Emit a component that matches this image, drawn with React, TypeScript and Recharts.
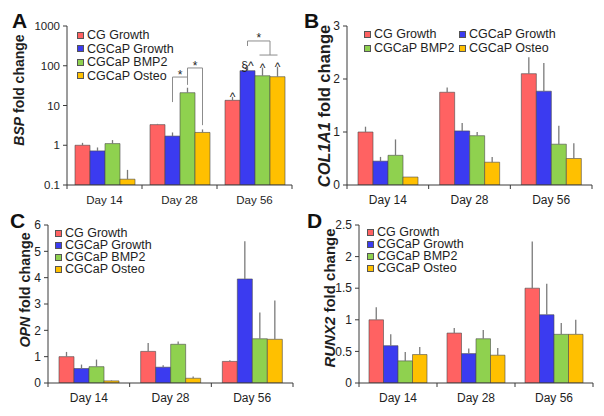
import React from "react";
import { BarChart, Bar, XAxis, YAxis, ErrorBar, LabelList, Legend } from "recharts";

const categories = ["Day 14", "Day 28", "Day 56"];
const seriesNames = ["CG Growth", "CGCaP Growth", "CGCaP BMP2", "CGCaP Osteo"];
const seriesColors = ["#FF6262", "#3B3BF0", "#8FD14F", "#FFC000"];

// rows = series, columns = day; errors are the upper error only
const bspMeans = [
  [1.0, 3.3, 13.5],
  [0.72, 1.7, 75],
  [1.1, 21, 56],
  [0.14, 2.1, 53],
];
const bspErrs = [
  [0.15, 0.15, 3],
  [0.16, 0.4, 25],
  [0.25, 7, 34],
  [0.1, 0.4, 42],
];

const col1a1Means = [
  [1.0, 1.75, 2.1],
  [0.45, 1.02, 1.77],
  [0.56, 0.93, 0.77],
  [0.15, 0.43, 0.5],
];
const col1a1Errs = [
  [0.1, 0.09, 0.31],
  [0.08, 0.15, 0.53],
  [0.3, 0.07, 0.35],
  [0, 0.1, 0.29],
];

const opnMeans = [
  [1.0, 1.2, 0.82],
  [0.55, 0.6, 3.95],
  [0.62, 1.47, 1.68],
  [0.08, 0.18, 1.66],
];
const opnErrs = [
  [0.18, 0.32, 0.04],
  [0.15, 0.07, 1.43],
  [0.27, 0.11, 1.0],
  [0.02, 0.07, 1.47],
];

const runx2Means = [
  [1.0, 0.79, 1.5],
  [0.59, 0.465, 1.08],
  [0.35, 0.7, 0.77],
  [0.45, 0.44, 0.77],
];
const runx2Errs = [
  [0.2, 0.08, 0.74],
  [0.18, 0.08, 0.49],
  [0.14, 0.14, 0.18],
  [0.12, 0.115, 0.23],
];

// significance markers above the BSP bars (series x day)
const bspMarks = [
  ["", "", "^"],
  ["", "", "§^"],
  ["", "", "^"],
  ["", "", "^"],
];
// brackets in BSP panel: series positions and heights in fold-change units
const bspBrackets = [
  { day: 1, from: 1, to: 2, top: 52, fromEnd: 12.2, toEnd: 33, star: 68 },
  { day: 1, from: 2, to: 3, top: 88, fromEnd: 52, toEnd: 3.2, star: 115 },
  { day: 2, from: 1, to: 2.5, top: 420, fromEnd: 314, toEnd: 186, star: 580, span: [1.8, 3] },
];

const FONT = "'Liberation Sans', Arial, Helvetica, sans-serif";
const INK = "#1e1e1e";
const AXIS = "#3a3a3a";
const BOX = "#6a6a6a";
const W = 302;
const H = 208;

const panels = [
  {
    letter: "A", gene: "BSP", x: 0, y: 0, means: bspMeans, errs: bspErrs,
    log: true, domain: [0.1, 1000], ticks: [0.1, 1, 10, 100, 1000],
    plotLeft: 67, marginRight: 10, plotTop: 26, plotBottom: 185, barSize: 15,
    tickFont: 11.5, titleFont: 14, titleX: 19, titleY: 90, letterX: 12, letterY: 28,
    legend: { x0: 77, y0: 35, cols: 1, colW: 0, rowH: 13.5, fs: 12.5 },
  },
  {
    letter: "B", gene: "COL1A1", x: 302, y: 0, means: col1a1Means, errs: col1a1Errs,
    log: false, domain: [0, 3], ticks: [0, 1, 2, 3],
    plotLeft: 45, marginRight: 12, plotTop: 26, plotBottom: 185, barSize: 15,
    tickFont: 12, titleFont: 16.5, titleX: 22, titleY: 106, letterX: 2, letterY: 28,
    legend: { x0: 62, y0: 34, cols: 2, colW: 95, rowH: 14, fs: 12.5 },
  },
  {
    letter: "C", gene: "OPN", x: 0, y: 208, means: opnMeans, errs: opnErrs,
    log: false, domain: [0, 6], ticks: [0, 1, 2, 3, 4, 5, 6],
    plotLeft: 48, marginRight: 9, plotTop: 17, plotBottom: 175, barSize: 15,
    tickFont: 12, titleFont: 14.3, titleX: 25, titleY: 82, letterX: 10, letterY: 20,
    legend: { x0: 55, y0: 25, cols: 1, colW: 0, rowH: 12, fs: 12.5 },
  },
  {
    letter: "D", gene: "RUNX2", x: 302, y: 208, means: runx2Means, errs: runx2Errs,
    log: false, domain: [0, 2.5], ticks: [0, 0.5, 1, 1.5, 2, 2.5],
    plotLeft: 57, marginRight: 11, plotTop: 17, plotBottom: 175, barSize: 14.5,
    tickFont: 12, titleFont: 15, titleX: 27, titleY: 90, letterX: 5, letterY: 20,
    legend: { x0: 65, y0: 24, cols: 1, colW: 0, rowH: 12, fs: 12.5 },
  },
];

function buildRows(means: number[][], errs: number[][]) {
  return categories.map((day, i) => {
    const row: any = { day };
    means.forEach((m, s) => {
      row[`s${s}`] = m[i];
      row[`e${s}`] = [0, errs[s][i]];
    });
    return row;
  });
}

// y pixel of a value on the log axis, taken from a bar drawn by recharts
function logY(vb: any, barValue: number, min: number) {
  const bottom = vb.y + vb.height;
  const ppd = vb.height / Math.log10(barValue / min);
  return (val: number) => bottom - Math.log10(val / min) * ppd;
}

function DayTick(props: any) {
  const { x, y, payload, index, fs, half } = props;
  const off = payload && payload.offset ? payload.offset : half;
  return (
    <g>
      <line x1={x - off} x2={x - off} y1={y} y2={y + 4} stroke={AXIS} />
      {index === categories.length - 1 && (
        <line x1={x + off} x2={x + off} y1={y} y2={y + 4} stroke={AXIS} />
      )}
      <text x={x} y={y + 19} textAnchor="middle" fontSize={fs} fontFamily={FONT} fill={INK}>
        {payload.value}
      </text>
    </g>
  );
}

function Panel({ cfg }: { cfg: any }) {
  const rows = buildRows(cfg.means, cfg.errs);
  const half = (W - cfg.plotLeft - cfg.marginRight) / 6;
  const min = cfg.domain[0];

  const renderMark = (p: any, s: number) => {
    const text = bspMarks[s][p.index];
    if (!text) return null;
    const vb = p.viewBox || p;
    const v = cfg.means[s][p.index];
    const yOf = logY(vb, v, min);
    const ty = yOf(v + cfg.errs[s][p.index]);
    return (
      <text key={`m${s}-${p.index}`} x={vb.x + vb.width / 2} y={ty + 4} textAnchor="middle" fontSize={12} fontFamily={FONT} fill={INK}>
        {text}
      </text>
    );
  };

  const renderBrackets = (p: any) => {
    const list = bspBrackets.filter((b) => b.day === p.index);
    if (!list.length) return null;
    const vb = p.viewBox || p;
    const yOf = logY(vb, cfg.means[1][p.index], min);
    const xOf = (s: number) => vb.x + (s - 1) * vb.width + vb.width / 2;
    return (
      <g key={`br-${p.index}`}>
        {list.map((b, k) => {
          const xa = xOf(b.from);
          const xb = xOf(b.to);
          return (
            <g key={k}>
              <path
                d={`M${xa},${yOf(b.fromEnd)}V${yOf(b.top)}H${xb}V${yOf(b.toEnd)}`}
                fill="none" stroke="#8c8c8c" strokeWidth={1}
              />
              {b.span && (
                <path d={`M${xOf(b.span[0])},${yOf(b.toEnd)}H${xOf(b.span[1])}`} stroke="#8c8c8c" strokeWidth={1} />
              )}
              <text x={(xa + xb) / 2} y={yOf(b.star) + 7} textAnchor="middle" fontSize={12} fontFamily={FONT} fill={INK}>
                *
              </text>
            </g>
          );
        })}
      </g>
    );
  };

  const title = () => (
    <g>
      <text
        x={cfg.titleX} y={cfg.titleY} transform={`rotate(-90 ${cfg.titleX} ${cfg.titleY})`}
        textAnchor="middle" dominantBaseline="central" fontSize={cfg.titleFont}
        fontWeight="bold" fontFamily={FONT} fill={INK}
      >
        <tspan fontStyle="italic">{cfg.gene}</tspan>
        <tspan> fold change</tspan>
      </text>
      <text x={cfg.letterX} y={cfg.letterY} fontSize={21} fontWeight="bold" fontFamily={FONT} fill="#111">
        {cfg.letter}
      </text>
    </g>
  );

  const lg = cfg.legend;
  const legendContent = () => (
    <div style={{ position: "relative", width: W, height: H }}>
      {seriesNames.map((name, s) => {
        const col = s % lg.cols;
        const row = Math.floor(s / lg.cols);
        return (
          <div
            key={name}
            style={{
              position: "absolute", left: lg.x0 + col * lg.colW, top: lg.y0 + row * lg.rowH - 6,
              height: 12, lineHeight: "12px", display: "flex", alignItems: "center", whiteSpace: "nowrap",
              fontFamily: FONT, fontSize: lg.fs, color: INK,
            }}
          >
            <span style={{ width: 7, height: 7, boxSizing: "border-box", border: "1px solid #555", background: seriesColors[s], marginRight: 3 }} />
            {name}
          </div>
        );
      })}
    </div>
  );

  return (
    <div style={{ position: "absolute", left: cfg.x, top: cfg.y, width: W, height: H }}>
      <BarChart
        width={W} height={H} data={rows} barGap={0} barSize={cfg.barSize}
        margin={{ top: cfg.plotTop, right: cfg.marginRight, left: 0, bottom: 0 }}
      >
        <XAxis
          dataKey="day" height={H - cfg.plotBottom} interval={0} tickLine={false} tickSize={0} tickMargin={0}
          axisLine={{ stroke: AXIS }} tick={(p: any) => <DayTick {...p} fs={cfg.tickFont} half={half} />}
        />
        <XAxis xAxisId="top" dataKey="day" orientation="top" height={0} tick={false} tickLine={false} axisLine={{ stroke: BOX }} />
        <YAxis
          width={cfg.plotLeft} type="number" scale={cfg.log ? "log" : "linear"} domain={cfg.domain}
          ticks={cfg.ticks} interval={0} allowDataOverflow tickSize={4} tickMargin={3}
          tickLine={{ stroke: AXIS }} axisLine={{ stroke: AXIS }}
          tick={{ fontSize: cfg.tickFont, fill: INK, fontFamily: FONT }}
          label={title}
        />
        <YAxis yAxisId="right" orientation="right" width={0} domain={[0, 1]} tick={false} tickLine={false} axisLine={{ stroke: BOX }} />
        <Legend
          layout="vertical" align="center" verticalAlign="middle"
          wrapperStyle={{ left: 0, top: 0, width: W, height: H, pointerEvents: "none" }}
          content={legendContent}
        />
        {seriesNames.map((name, s) => (
          <Bar
            key={name} dataKey={`s${s}`} name={name} fill={seriesColors[s]}
            stroke="#4a4a4a" strokeWidth={0.6} isAnimationActive={false}
          >
            <ErrorBar dataKey={`e${s}`} width={0} stroke="#7a7a7a" strokeWidth={1.3} direction="y" />
            {cfg.log && s === 1 && <LabelList dataKey="s1" content={renderBrackets} />}
            {cfg.log && <LabelList dataKey={`s${s}`} content={(p: any) => renderMark(p, s)} />}
          </Bar>
        ))}
      </BarChart>
    </div>
  );
}

export default function App() {
  return (
    <div style={{ position: "absolute", left: 0, top: 0, width: 604, height: 416, background: "#fff" }}>
      {panels.map((cfg) => (
        <Panel key={cfg.letter} cfg={cfg} />
      ))}
    </div>
  );
}
